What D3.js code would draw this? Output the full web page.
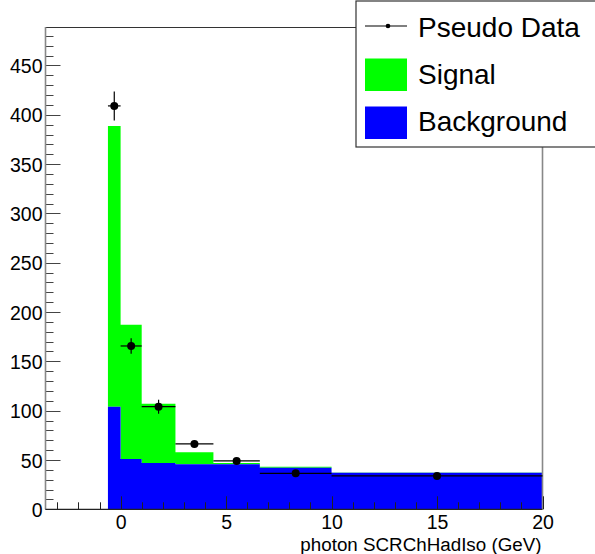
<!DOCTYPE html>
<html>
<head>
<meta charset="utf-8">
<script src="https://cdn.jsdelivr.net/npm/d3@7"></script>
<style>
  html, body { margin: 0; padding: 0; background: #fff; }
  svg { display: block; font-family: "Liberation Sans", Arial, Helvetica, sans-serif; }
</style>
</head>
<body>
<svg id="chart" width="595" height="554"></svg>
<script>
// Variable-width bins of photon SCRChHadIso (GeV)
const binEdges   = [-0.6, 0, 1, 2.6, 4.4, 6.6, 10, 20];
// Stacked template yields per bin
const background = [104.1, 51.0, 47.0, 45.6, 45.8, 42.2, 37.0];
const signal     = [284.6, 136.0, 60.0, 12.2, 1.2, 1.0, 0.2];
// Pseudo data points and their vertical uncertainties
const dataValues = [409.0, 165.6, 104.0, 66.3, 49.0, 36.5, 33.8];
const dataErrors = [14.7, 7.9, 7.1, 3.5, 3.0, 2.0, 1.0];

const xTicksMajor = [0, 5, 10, 15, 20];
const yTicksMajor = [0, 50, 100, 150, 200, 250, 300, 350, 400, 450];
const legendLabels = ["Pseudo Data", "Signal", "Background"];
const xTitle = "photon SCRChHadIso (GeV)";

const svg = d3.select("#chart");
const frame = { left: 45.5, right: 542.5, top: 27, bottom: 509.3 };

const x = d3.scaleLinear().domain([-3.56, 20]).range([frame.left, frame.right]);
const y = d3.scaleLinear().domain([0, 489]).range([frame.bottom, frame.top]);

const bins = binEdges.slice(0, -1).map((lo, i) => ({
  lo, hi: binEdges[i + 1],
  bkg: background[i], sig: signal[i],
  val: dataValues[i], err: dataErrors[i]
}));

// Step outlines over the bin edges (last bin value repeated at the upper edge)
const stepPts = binEdges.map((e, i) => {
  const b = bins[Math.min(i, bins.length - 1)];
  return { e, bkg: b.bkg, tot: b.bkg + b.sig };
});

// Stacked histogram: background first, signal on top
const g = svg.append("g");
g.append("path").datum(stepPts)
  .attr("fill", "#00ff00")
  .attr("d", d3.area().curve(d3.curveStepAfter)
    .x(d => x(d.e)).y0(d => y(d.bkg)).y1(d => y(d.tot)));
g.append("path").datum(stepPts)
  .attr("fill", "#0000ff")
  .attr("d", d3.area().curve(d3.curveStepAfter)
    .x(d => x(d.e)).y0(y(0)).y1(d => y(d.bkg)));

// Frame
svg.append("line").attr("x1", frame.left).attr("x2", frame.right)
  .attr("y1", frame.top + 0.5).attr("y2", frame.top + 0.5)
  .attr("stroke", "#333").attr("stroke-width", 1);
svg.append("line").attr("x1", frame.right).attr("x2", frame.right)
  .attr("y1", frame.top).attr("y2", frame.bottom)
  .attr("stroke", "#888").attr("stroke-width", 1.6);

// Y axis
const yAxis = d3.axisLeft(y).tickValues(yTicksMajor).tickSize(0).tickPadding(3)
  .tickFormat(d3.format("d"));
const yG = svg.append("g").attr("transform", `translate(${frame.left},0)`).call(yAxis);
yG.select(".domain").remove();
yG.selectAll("text").attr("font-size", 19.5).attr("fill", "#000")
  .attr("font-family", "Liberation Sans, Arial, sans-serif")
  .attr("dy", "0.36em");
const yMinor = d3.range(0, 490, 10);
svg.append("g").selectAll("line").data(yMinor).join("line")
  .attr("x1", frame.left).attr("x2", d => frame.left + (d % 50 === 0 ? 15 : 8))
  .attr("y1", d => Math.round(y(d)) + 0.5).attr("y2", d => Math.round(y(d)) + 0.5)
  .attr("stroke", "#444").attr("stroke-width", 1);
svg.append("line").attr("x1", frame.left).attr("x2", frame.left)
  .attr("y1", frame.top).attr("y2", frame.bottom)
  .attr("stroke", "#888").attr("stroke-width", 1.6);

// X axis
const xAxis = d3.axisBottom(x).tickValues(xTicksMajor).tickSize(0).tickPadding(6)
  .tickFormat(d3.format("d"));
const xG = svg.append("g").attr("transform", `translate(0,${frame.bottom})`).call(xAxis);
xG.select(".domain").remove();
xG.selectAll("text").attr("font-size", 19.5).attr("fill", "#000")
  .attr("font-family", "Liberation Sans, Arial, sans-serif")
  .attr("dy", "0.71em");
const xMinor = d3.range(-3, 21, 1);
svg.append("g").selectAll("line").data(xMinor).join("line")
  .attr("x1", d => Math.round(x(d)) + 0.5).attr("x2", d => Math.round(x(d)) + 0.5)
  .attr("y1", frame.bottom).attr("y2", d => frame.bottom - (d % 5 === 0 ? 13 : 7))
  .attr("stroke", "#222").attr("stroke-width", 1);
svg.append("line").attr("x1", frame.left).attr("x2", frame.right)
  .attr("y1", frame.bottom).attr("y2", frame.bottom)
  .attr("stroke", "#222").attr("stroke-width", 1.2);

svg.append("text").attr("x", frame.right - 1).attr("y", 550.5)
  .attr("text-anchor", "end").attr("font-size", 18.8).attr("fill", "#000")
  .text(xTitle);

// Pseudo data with error bars
const dg = svg.append("g");
dg.selectAll("line.h").data(bins).join("line").attr("class", "h")
  .attr("x1", d => x(d.lo)).attr("x2", d => x(d.hi))
  .attr("y1", d => y(d.val)).attr("y2", d => y(d.val))
  .attr("stroke", "#000").attr("stroke-width", 1.2);
dg.selectAll("line.v").data(bins).join("line").attr("class", "v")
  .attr("x1", d => x((d.lo + d.hi) / 2)).attr("x2", d => x((d.lo + d.hi) / 2))
  .attr("y1", d => y(d.val - d.err)).attr("y2", d => y(d.val + d.err))
  .attr("stroke", "#000").attr("stroke-width", 1.2);
dg.selectAll("circle").data(bins).join("circle")
  .attr("cx", d => x((d.lo + d.hi) / 2)).attr("cy", d => y(d.val))
  .attr("r", 4).attr("fill", "#000");

// Legend
const lg = svg.append("g");
lg.append("rect").attr("x", 356).attr("y", 1).attr("width", 260).attr("height", 146)
  .attr("fill", "#fff").attr("stroke", "#333").attr("stroke-width", 1.2);
const rowBase = [37, 84, 131];
lg.append("line").attr("x1", 365).attr("x2", 407).attr("y1", 26).attr("y2", 26)
  .attr("stroke", "#000").attr("stroke-width", 1.2);
lg.append("circle").attr("cx", 388).attr("cy", 26).attr("r", 2.3).attr("fill", "#000");
lg.append("rect").attr("x", 365).attr("y", 58.5).attr("width", 42).attr("height", 32.5)
  .attr("fill", "#00ff00");
lg.append("rect").attr("x", 365).attr("y", 106.5).attr("width", 42).attr("height", 32.5)
  .attr("fill", "#0000ff");
lg.selectAll("text").data(legendLabels).join("text")
  .attr("x", 418).attr("y", (d, i) => rowBase[i])
  .attr("font-size", 28).attr("fill", "#000")
  .text(d => d);
</script>
</body>
</html>
